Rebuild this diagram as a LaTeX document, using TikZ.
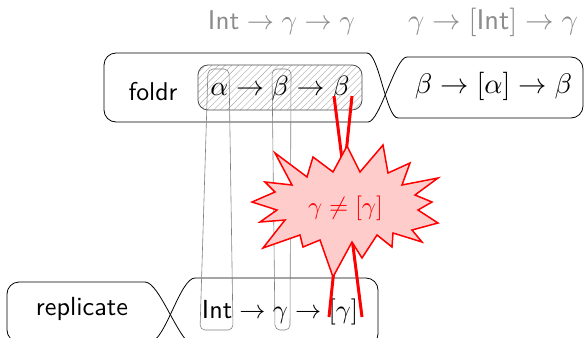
\documentclass[tikz,border=0pt]{standalone}
\usepackage{graphicx}
\usetikzlibrary{patterns.meta}
\tikzset{
  box/.style={draw=black, line width=0.8pt, rounded corners=12pt},
  sbend/.style={draw=black, line width=0.8pt},
  hatchbox/.style={draw=black!70, line width=0.8pt, rounded corners=10pt,
    pattern={Lines[angle=45,distance=4.7pt,line width=0.4pt]}, pattern color=black!35},
  link/.style={draw=black!50, line width=0.6pt, rounded corners=5pt},
  lbl/.style={inner sep=0pt, anchor=base},
  graylbl/.style={lbl, text=black!45},
  crossline/.style={draw=red, line width=3pt},
  burst/.style={draw=red, line width=1.5pt, fill=red!20, line join=miter},
}
\begin{document}
\begin{tikzpicture}[x=1pt,y=-1pt]
\useasboundingbox (0,0) rectangle (585,337);
\clip (0,0) rectangle (585,337);

% top chain: foldr | beta -> [alpha] -> beta
\draw[box] (367,53) -- (104,53) -- (104,122) -- (368,122);
\draw[box] (398,118) -- (583,118) -- (583,57) -- (407,57);
\draw[sbend] (367,53) .. controls (379,53) and (386,118) .. (398,118);
\draw[sbend] (407,57) .. controls (395,57) and (380,122) .. (368,122);

% bottom chain: replicate | Int -> gamma -> [gamma]
\draw[box] (145,282) -- (7,282) -- (7,342) -- (150,342);
\draw[box] (195,346) -- (378,346) -- (378,278) -- (195,278);
\draw[sbend] (145,282) .. controls (160,282) and (180,346) .. (195,346);
\draw[sbend] (195,278) .. controls (180,278) and (165,342) .. (150,342);

% hatched argument region
\draw[hatchbox] (198,65) rectangle (362,110);

% link boxes
\draw[link] (208,69) -- (229,69) -- (233,330) -- (200,330) -- cycle;
\draw[link] (272,69) -- (291,69) -- (290,330) -- (275,330) -- cycle;

% texts
\node[lbl] (foldr) at (153,100) {\resizebox{49pt}{!}{\textsf{foldr}}};
\node[lbl] (ftype) at (280,95) {\resizebox{139pt}{!}{$\alpha\to\beta\to\beta$}};
\node[lbl] (ftype2) at (493.5,93) {\resizebox{157pt}{!}{$\beta\to[\alpha]\to\beta$}};
\node[lbl] (repl) at (82,315) {\resizebox{92pt}{!}{\textsf{replicate}}};
\node[lbl] (rtype) at (280,318) {\resizebox{156pt}{!}{$\textsf{Int}\to\gamma\to[\gamma]$}};
\node[graylbl] (inst1) at (281.5,30) {\resizebox{147pt}{!}{$\textsf{Int}\to\gamma\to\gamma$}};
\node[graylbl] (inst2) at (493,30) {\resizebox{170pt}{!}{$\gamma\to[\textsf{Int}]\to\gamma$}};

% red crossed connection
\coordinate (ca1) at (334,96);
\coordinate (ca2) at (362,317);
\coordinate (cb1) at (352,96);
\coordinate (cb2) at (329,317);
\draw[crossline] (ca1) -- (ca2);
\draw[crossline] (cb1) -- (cb2);

% starburst
\draw[burst] (347,146) -- (360,172) -- (383,145) -- (388,173) -- (410,163) -- (402,185)
  -- (438,178) -- (415,195) -- (432,202) -- (418,210) -- (438,223) -- (412,230)
  -- (422,242) -- (393,233) -- (392,247) -- (377,235) -- (362,258) -- (352,242)
  -- (333,277) -- (320,240) -- (303,247) -- (300,235) -- (263,248) -- (285,220)
  -- (260,222) -- (277,210) -- (252,202) -- (275,192) -- (265,182) -- (292,185)
  -- (275,153) -- (307,177) -- (313,157) -- (333,172) -- cycle;
\node[lbl, text=red] (neq) at (345.5,214) {\resizebox{75pt}{!}{$\gamma\neq[\gamma]$}};
\end{tikzpicture}
\end{document}
